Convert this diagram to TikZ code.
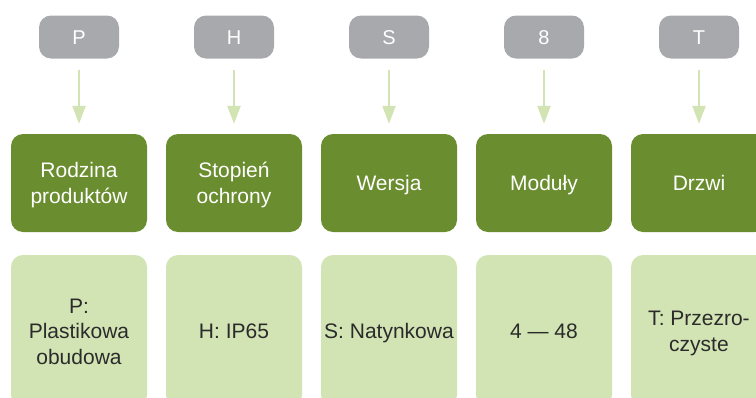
\documentclass[tikz,border=0pt]{standalone}
\usepackage{fontspec}
\setmainfont{Liberation Sans}
\usetikzlibrary{arrows.meta}
\definecolor{tagGrey}{HTML}{A7A9AC}
\definecolor{headGreen}{HTML}{6A8D2F}
\definecolor{paleGreen}{HTML}{D2E4B3}
\definecolor{textDark}{HTML}{2B2B2B}
\newcommand\lnstrut{\rule[-5pt]{0pt}{25pt}}
\tikzset{
  x=1pt, y=-1pt,
  tagbox/.style={fill=tagGrey, rounded corners=12pt, minimum width=80pt, minimum height=43pt, inner sep=0pt, text=white, font=\fontsize{20}{24}\selectfont},
  headbox/.style={fill=headGreen, rounded corners=12pt, minimum width=136pt, minimum height=98pt, inner sep=0pt, text=white, align=center, font=\fontsize{21}{25.5}\selectfont},
  valbox/.style={fill=paleGreen, rounded corners=12pt, minimum width=136pt, minimum height=152pt, inner sep=0pt, text=textDark, align=center, font=\fontsize{21}{25.5}\selectfont},
  arr/.style={draw=paleGreen, line width=2.5pt, shorten <=11pt, shorten >=10pt, -{Triangle[width=13pt,length=18pt]}}
}
\begin{document}
\begin{tikzpicture}
\useasboundingbox (0,0) rectangle (756,397);
\clip (0,0) rectangle (756,397);
\foreach \i/\t in {1/P,2/H,3/S,4/8,5/T}{
  \node[tagbox] (t\i) at ({79+155*(\i-1)},37) {\lnstrut\t};
}
\node[headbox] (h1) at (79,183) {\lnstrut Rodzina\\\lnstrut produktów};
\node[headbox] (h2) at (234,183) {\lnstrut Stopień\\\lnstrut ochrony};
\node[headbox] (h3) at (389,183) {\lnstrut Wersja};
\node[headbox] (h4) at (544,183) {\lnstrut Moduły};
\node[headbox] (h5) at (699,183) {\lnstrut Drzwi};
\node[valbox] (v1) at (79,331) {\lnstrut P:\\\lnstrut Plastikowa\\\lnstrut obudowa};
\node[valbox] (v2) at (234,331) {\lnstrut H: IP65};
\node[valbox] (v3) at (389,331) {\lnstrut S: Natynkowa};
\node[valbox] (v4) at (544,331) {\lnstrut 4 — 48};
\node[valbox] (v5) at (699,331) {\lnstrut T: Przezro-\\\lnstrut czyste};
\foreach \i in {1,...,5}{
  \draw[arr] (t\i.south) -- (h\i.north);
}
\end{tikzpicture}
\end{document}
